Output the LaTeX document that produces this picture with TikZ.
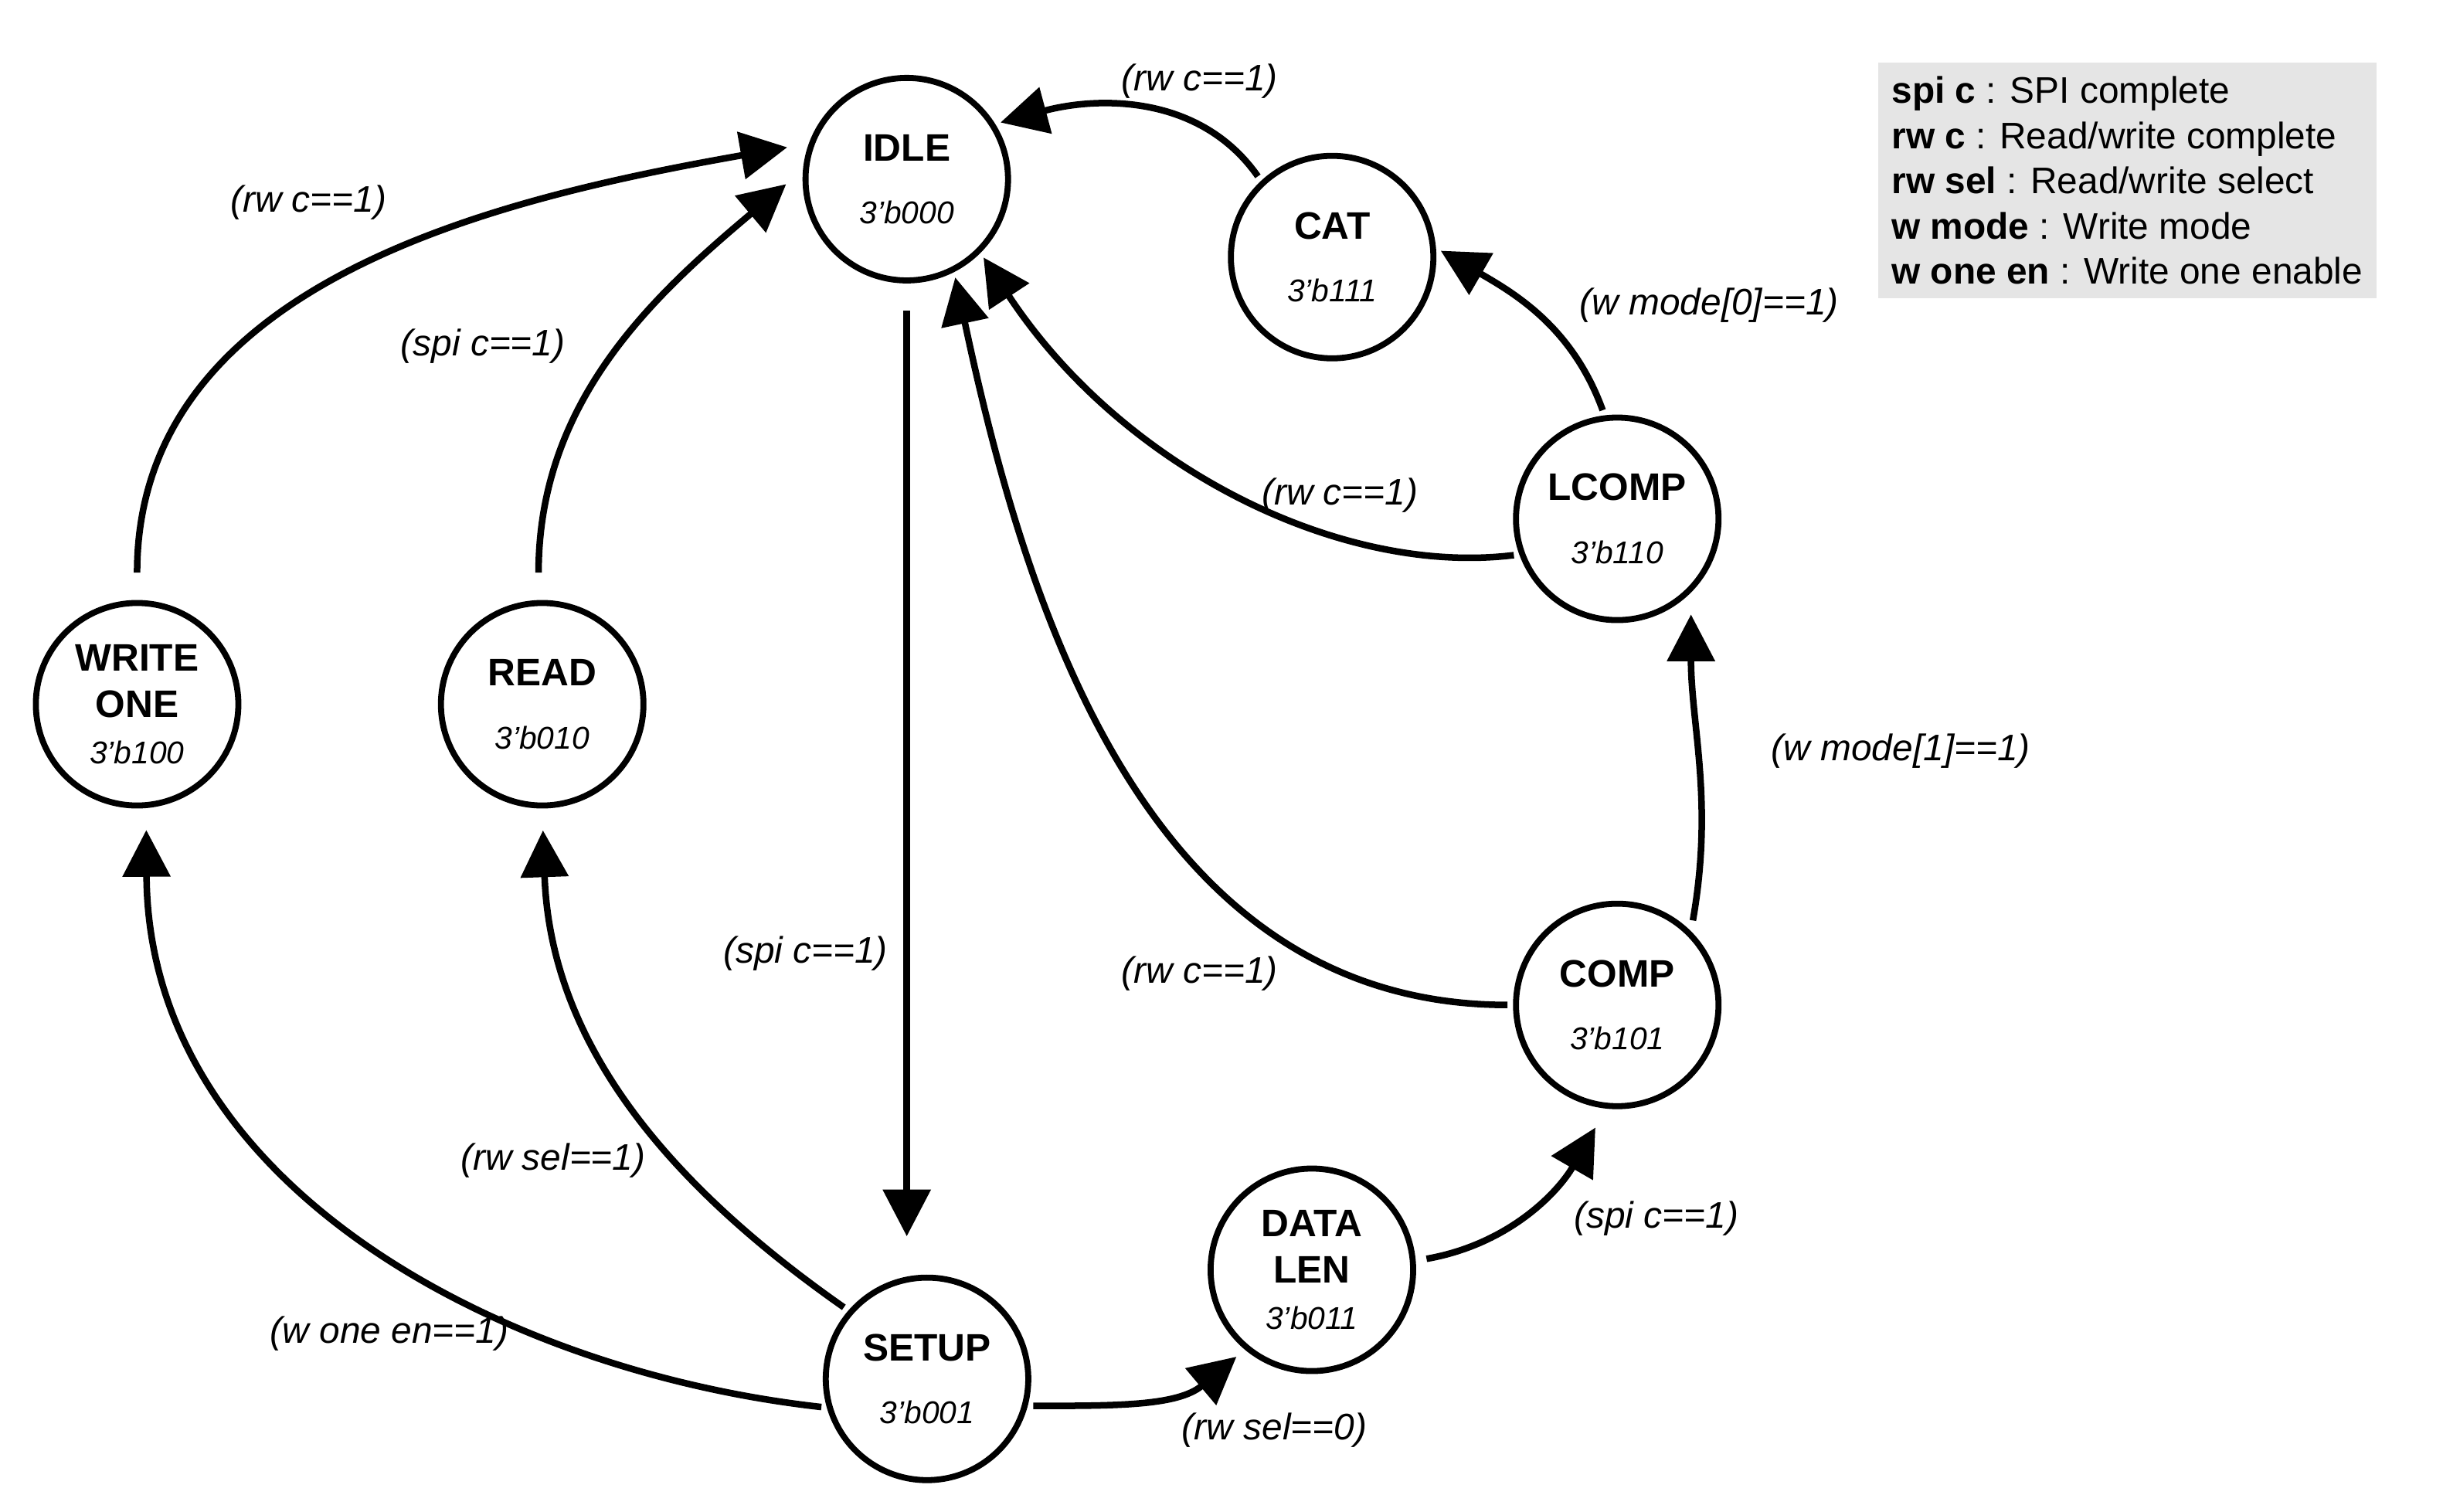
\documentclass[tikz,border=0pt]{standalone}
\usepackage{fontspec}
\setmainfont{Liberation Sans}
\usetikzlibrary{arrows.meta}

\begin{document}
\begin{tikzpicture}[x=0.02cm, y=-0.02cm,
    state/.style={circle, draw=black, line width=2.2pt, minimum size=2.6cm, inner sep=0pt, align=center, font=\fontsize{14}{17}\selectfont\bfseries},
    arrow/.style={-{Triangle[length=0.6cm, width=0.6cm]}, line width=2.4pt, shorten >=2pt},
    lbl/.style={font=\fontsize{13.5}{16}\selectfont\itshape}
]
\useasboundingbox (0,0) rectangle (1568,970);

% Legend
\node[fill=black!10, anchor=north west, align=left, inner sep=5pt,
      font=\fontsize{13.5}{16.5}\selectfont] (legend) at (1205,40)
  {\textbf{spi c} : SPI complete\\ \textbf{rw c} : Read/write complete\\
   \textbf{rw sel} : Read/write select\\ \textbf{w mode} : Write mode\\
   \textbf{w one en} : Write one enable};

% States
\node[state] at (582,115) (idle) {IDLE\\[6pt]{\normalfont\fontsize{11.5}{14}\selectfont\itshape 3’b000}};
\node[state] at (855,165) (cat) {CAT\\[6pt]{\normalfont\fontsize{11.5}{14}\selectfont\itshape 3’b111}};
\node[state] at (1038,333) (lcomp) {LCOMP\\[6pt]{\normalfont\fontsize{11.5}{14}\selectfont\itshape 3’b110}};
\node[state] at (1038,645) (comp) {COMP\\[6pt]{\normalfont\fontsize{11.5}{14}\selectfont\itshape 3’b101}};
\node[state] at (842,815) (datalen) {DATA\\LEN\\{\normalfont\fontsize{11.5}{14}\selectfont\itshape 3’b011}};
\node[state] at (595,885) (setup) {SETUP\\[6pt]{\normalfont\fontsize{11.5}{14}\selectfont\itshape 3’b001}};
\node[state] at (348,452) (read) {READ\\[6pt]{\normalfont\fontsize{11.5}{14}\selectfont\itshape 3’b010}};
\node[state] at (88,452) (writeone) {WRITE\\ONE\\{\normalfont\fontsize{11.5}{14}\selectfont\itshape 3’b100}};

% Transitions
\coordinate (setupin) at (idle.south |- setup.north);
\draw[arrow, shorten <=10pt, shorten >=14pt] (idle.south) -- (setupin);
\draw[arrow, shorten <=2pt, shorten >=8pt] (setup.196) .. controls (320,880) and (95,760) .. (writeone.275);
\draw[arrow, shorten <=2pt, shorten >=8pt] (setup.139) to[out=145, in=272] (read.270);
\draw[arrow, shorten <=2pt, shorten >=4pt] (setup.-15) to[out=0, in=220] (datalen.230);
\draw[arrow, shorten <=4pt, shorten >=8pt] (datalen.5) to[out=10, in=240] (comp.264);
\draw[arrow, shorten <=4pt, shorten >=8pt] (comp.45) to[out=80, in=270] (lcomp.-45);
\draw[arrow, shorten <=2pt, shorten >=2pt] (comp.180) to[out=180, in=-78] (idle.-63);
\draw[arrow, shorten <=2pt, shorten >=2pt] (lcomp.200) .. controls (860,370) and (720,300) .. (idle.-45);
\draw[arrow, shorten <=2pt, shorten >=2pt] (lcomp.97) to[out=110, in=-30] (cat.5);
\draw[arrow, shorten <=2pt, shorten >=2pt] (cat.133) to[out=125, in=15] (idle.32);
\draw[arrow, shorten <=10pt, shorten >=8pt] (read.92) to[out=90, in=220] (idle.175);
\draw[arrow, shorten <=10pt, shorten >=8pt] (writeone.90) to[out=90, in=190] (idle.160);

% Labels
\node[lbl] (l1) at (517,612) {(spi c==1)};
\node[lbl] (l2) at (250,856) {(w one en==1)};
\node[lbl] (l3) at (355,745) {(rw sel==1)};
\node[lbl] (l4) at (818,918) {(rw sel==0)};
\node[lbl] (l5) at (1063,782) {(spi c==1)};
\node[lbl] (l6) at (1220,482) {(w mode[1]==1)};
\node[lbl] (l7) at (770,625) {(rw c==1)};
\node[lbl] (l8) at (860,318) {(rw c==1)};
\node[lbl] (l9) at (1097,196) {(w mode[0]==1)};
\node[lbl] (l10) at (770,52) {(rw c==1)};
\node[lbl] (l11) at (310,222) {(spi c==1)};
\node[lbl] (l12) at (198,130) {(rw c==1)};
\end{tikzpicture}
\end{document}
